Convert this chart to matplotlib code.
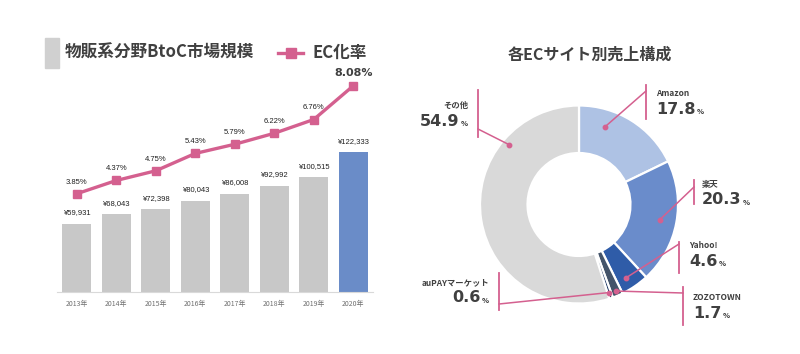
import numpy as np
import matplotlib.pyplot as plt
from matplotlib.patches import Rectangle
from matplotlib.lines import Line2D

# data
years = ["2013年", "2014年", "2015年", "2016年", "2017年", "2018年", "2019年", "2020年"]
market = [59931, 68043, 72398, 80043, 86008, 92992, 100515, 122333]
ec_rate = [3.85, 4.37, 4.75, 5.43, 5.79, 6.22, 6.76, 8.08]

sites = ["Amazon", "楽天", "Yahoo!", "ZOZOTOWN", "auPAYマーケット", "その他"]
shares = [17.8, 20.3, 4.6, 1.7, 0.6, 54.9]

JP = ["Noto Sans CJK JP", "DejaVu Sans"]
NUM = ["DejaVu Sans"]
PINK = "#D4608F"
DARK = "#404040"
W, H = 800, 354

fig = plt.figure(figsize=(8, 3.54), dpi=100)


def fpos(x, y):
    # pixel (top-left origin) -> figure fraction
    return x / W, 1 - y / H


# ---- left: bar + line ----
ax = fig.add_axes([57 / W, 62 / H, 316 / W, 222 / H])
x = np.arange(len(years))
bar_colors = ["#C8C8C8"] * (len(years) - 1) + ["#6A8CC8"]
ax.bar(x, market, width=0.74, color=bar_colors)
ax.set_xlim(-0.5, len(years) - 0.5)
ax.set_ylim(0, 194400)
ax.set_xticks(x)
ax.set_xticklabels(years, fontsize=5, color="#707070", family=JP)
ax.tick_params(axis="x", length=0, pad=6)
ax.set_yticks([])
for s in ["top", "left", "right"]:
    ax.spines[s].set_visible(False)
ax.spines["bottom"].set_color("#D9D9D9")
for xi, v in zip(x, market):
    ax.text(xi, v + 6500, "¥{:,}".format(v), ha="center", va="bottom",
            fontsize=5.5, family="Liberation Sans", color="#202020")

ax2 = ax.twinx()
ax2.plot(x, ec_rate, color=PINK, lw=2.4, marker="s", ms=5.5)
ax2.set_ylim(0, 8.70)
ax2.set_yticks([])
for s in ["top", "left", "right", "bottom"]:
    ax2.spines[s].set_visible(False)
for xi, v in zip(x[:-1], ec_rate[:-1]):
    ax2.text(xi, v + 0.32, "{:.2f}%".format(v), ha="center", va="bottom",
             fontsize=5.5, family="Liberation Sans", color="#202020")
ax2.text(x[-1], ec_rate[-1] + 0.32, "{:.2f}%".format(ec_rate[-1]), ha="center",
         va="bottom", fontsize=8, fontweight="bold", family=NUM, color=DARK,
         clip_on=False)

# legend
rx, ry = fpos(45, 68)
fig.patches.append(Rectangle((rx, ry), 14 / W, 30 / H, transform=fig.transFigure,
                             color="#D0D0D0"))
fig.text(*fpos(65, 53), "物販系分野BtoC市場規模", fontsize=12, fontweight="bold",
         family=JP, color=DARK, va="center")
lx0, ly = fpos(278, 53)
lx1, _ = fpos(303, 53)
fig.lines.append(Line2D([lx0, lx1], [ly, ly], transform=fig.transFigure,
                        color=PINK, lw=2.4))
fig.lines.append(Line2D([(lx0 + lx1) / 2], [ly], transform=fig.transFigure,
                        color=PINK, marker="s", ms=6.5))
fig.text(*fpos(312, 53), "EC化率", fontsize=12, fontweight="bold",
         family=JP, color=DARK, va="center")

# ---- right: donut ----
cx, cy, R = 579, 204.5, 99.0
axp = fig.add_axes([400 / W, 0, 400 / W, 1])
pie_colors = ["#AEC2E4", "#6A8CCB", "#2F5CA8", "#44546A", "#1F3864", "#D9D9D9"]
axp.pie(shares, startangle=90, counterclock=False, colors=pie_colors,
        wedgeprops=dict(width=0.48, edgecolor="white", linewidth=1.6))
axp.set_xlim((400 - cx) / R, (800 - cx) / R)
axp.set_ylim((cy - H) / R, cy / R)
axp.axis("off")


def dpos(px, py):
    return (px - cx) / R, (cy - py) / R


fig.text(590 / W, 1 - 55 / H, "各ECサイト別売上構成", fontsize=11.5, fontweight="bold",
         family=JP, color=DARK, ha="center", va="center")

# callout layout per slice: dot fraction in wedge, dot radius, vertical bar x, bar y0, y1,
# joint y, text x, name y, value y, alignment
callouts = [
    (0.29, 0.83, 646, 85, 119, 91, 656, 93, 109, "left"),
    (0.50, 0.83, 694, 180, 204, 187, 702, 185, 200, "left"),
    (0.61, 0.88, 679, 242, 273, 244, 689, 246, 261, "left"),
    (0.50, 0.95, 683, 287, 325, 293, 693, 297, 313, "left"),
    (0.50, 0.94, 499, 273, 310, 304, 489, 283, 298, "right"),
    (0.75, 0.93, 478, 90, 137, 129, 468, 105, 121, "right"),
]

total = sum(shares)
start = 90.0
fig.canvas.draw()
rend = fig.canvas.get_renderer()
for name, val, co in zip(sites, shares, callouts):
    frac, rr, bx, by0, by1, jy, tx, ny, vy, al = co
    span = 360.0 * val / total
    ang = np.deg2rad(start - span * frac)
    start -= span
    dx, dy = rr * np.cos(ang), rr * np.sin(ang)
    jx, jyd = dpos(bx, jy)
    axp.plot([dx, jx], [dy, jyd], color=PINK, lw=1.1, clip_on=False)
    axp.plot([dx], [dy], "o", color=PINK, ms=3.2, clip_on=False)
    b0 = dpos(bx, by0)
    b1 = dpos(bx, by1)
    axp.plot([b0[0], b1[0]], [b0[1], b1[1]], color=PINK, lw=1.3, clip_on=False)

    fig.text(*fpos(tx, ny), name, fontsize=6, fontweight="bold", family=JP,
             color=DARK, ha=al, va="center")
    num = "{:.1f}".format(val)
    if al == "left":
        t = fig.text(*fpos(tx, vy), num, fontsize=11.5, fontweight="bold",
                     family=NUM, color=DARK, ha="left", va="center")
        bb = t.get_window_extent(rend)
        fig.text(bb.x1 / W + 1.5 / W, 1 - (vy + 3) / H, "%", fontsize=5,
                 fontweight="bold", family=NUM, color=DARK, ha="left", va="center")
    else:
        p = fig.text(*fpos(tx, vy + 3), "%", fontsize=5, fontweight="bold",
                     family=NUM, color=DARK, ha="right", va="center")
        bb = p.get_window_extent(rend)
        fig.text(bb.x0 / W - 1.5 / W, 1 - vy / H, num, fontsize=11.5,
                 fontweight="bold", family=NUM, color=DARK, ha="right", va="center")

fig.savefig("out.png", dpi=100)
